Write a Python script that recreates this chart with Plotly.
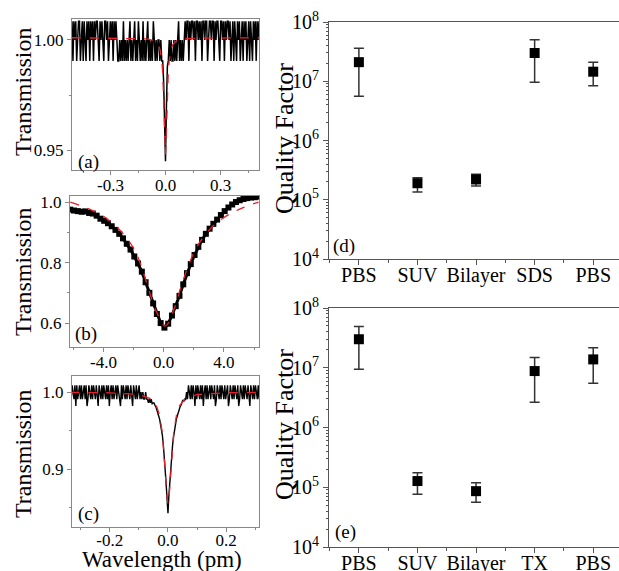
import plotly.graph_objects as go
import numpy as np

# ---- (a) transmission, narrow resonance ----
A_HI, A_MID, A_LO = 1.0085, 1.000, 0.9905
H, M, L = A_HI, A_MID, A_LO
a_trans = [
    H, L, H, M, H, L, M, H, H, L, M, H, L, H, M, L, H, M, H, L,
    H, M, H, L, H, M, H, H, M, L, H, M, H, M, L, H, H, M, H, L, M, H, M, H, L, H, M, H, M, L,
    L, M, L, M, L, H, L, M, L, M, L, M, H, L,
    M, L, M, H, L, M, L, H, M, L, M, L, H, L, M, L, M, H, L, M, L, M, L, H, M, L, M, L, M,
    M, L, M, L, L,
    0.981, 0.962, 0.945, 0.970, 0.988,
    L, M, L, M, L, L, M, L, M, L, M, H, L, M, L, M, L, M,
    H, M, H, H, L, H, M, H, H, M, H, L, H, H, M, H, M, H, L, H, H, M, H, H, L, M, H, H, M, H,
    H, L, H, M, H, H, M, L, H, H, M, H, L, H, M, H, H, M, H, L,
    M, H, L, H, M, L, H, M, H, L, M, H, L, H, M, H, L, M, H, L, H, M, L, H, M, H, L, H, M, H,
]
a_fit_x = [-0.51, -0.2, -0.1, -0.06, -0.04, -0.03, -0.02, -0.015, -0.01, -0.005, 0.0,
           0.005, 0.01, 0.015, 0.02, 0.03, 0.04, 0.06, 0.1, 0.2, 0.51]
a_fit_y = [1.001, 1.0008, 1.0005, 0.9996, 0.9979, 0.9957, 0.9904, 0.9847, 0.9745, 0.9586, 0.948,
           0.9586, 0.9745, 0.9847, 0.9904, 0.9957, 0.9979, 0.9996, 1.0005, 1.0008, 1.001]

# ---- (b) transmission, broad resonance ----
b_wl = [-6.2 + 0.25 * k for k in range(51)]
b_trans = [0.975, 0.972, 0.970, 0.968, 0.969, 0.964, 0.962, 0.955, 0.945, 0.938,
           0.930, 0.920, 0.908, 0.895, 0.880, 0.862, 0.843, 0.820, 0.797, 0.770,
           0.735, 0.700, 0.665, 0.630, 0.600, 0.585, 0.598, 0.625, 0.656, 0.690,
           0.728, 0.765, 0.795, 0.825, 0.852, 0.875, 0.895, 0.912, 0.928, 0.942,
           0.957, 0.970, 0.982, 0.992, 1.000, 1.006, 1.010, 1.013, 1.015, 1.016, 1.018]
b_fit_x = [-6.2, -5.0, -4.0, -3.0, -2.0, -1.5, -1.0, -0.5, 0.1, 0.7, 1.2, 1.7, 2.2, 3.2, 4.2, 5.2, 6.3]
b_fit_y = [1.0, 0.978, 0.953, 0.912, 0.848, 0.790, 0.712, 0.640, 0.590, 0.648, 0.728, 0.797,
           0.852, 0.917, 0.955, 0.980, 1.0]

# ---- (c) transmission ----
C_HI, C_MID, C_LO, C_MIN = 1.009, 1.000, 0.991, 0.982
H, M, L, W = C_HI, C_MID, C_LO, C_MIN
c_trans = [
    H, L, H, M, L, H, W, H, L, M, H, L, H, L, M, H, L, H, W, L,
    H, M, L, H, L, H, M, L, H, L, W, H, M, L, H, L, H, M, L, H,
    L, H, W, M, H, L, H, L, M, H, L, H, M, L, W, H, L, H, M, L,
    H, L, H, M, L, H, L, W, H, M, L, H, L, M, H, L, M, L, M, L,
    L, M, L, L, 0.986, L, 0.986, L, 0.985, 0.986,
    0.986, 0.983, 0.981, 0.977, 0.974, 0.969, 0.965, 0.958,
    0.952, 0.944, 0.932, 0.918, 0.902, 0.882, 0.862,
    0.843,
    0.866, 0.886, 0.905, 0.920, 0.932, 0.942, 0.952, 0.958, 0.965, 0.969, 0.974, 0.977, 0.981, 0.983, 0.986,
    0.990, 0.988, L, 0.990, M,
    L, H, M, L, H, L, H, M, W, H, L, H, M, L, H, L, H, W, M, H,
    L, H, L, M, H, L, H, M, L, H, W, L, H, M, L, H, L, H, M, L,
    H, L, M, H, W, L, H, M, L, H, L, H, M, L, H, W, L, H, M, L,
    H, L, H, M, L, H, L, W, H, M, L, H, L, H, M, L, H, L, M, H,
]
c_fit_x = [-0.336, -0.2, -0.1, -0.06, -0.04, -0.03, -0.02, -0.015, -0.01, -0.005, 0.0,
           0.005, 0.01, 0.015, 0.02, 0.03, 0.04, 0.06, 0.1, 0.2, 0.32]
c_fit_y = [0.9997, 0.9992, 0.9969, 0.9917, 0.9827, 0.9718, 0.9489, 0.9287, 0.9007, 0.870, 0.855,
           0.870, 0.9007, 0.9287, 0.9489, 0.9718, 0.9827, 0.9917, 0.9969, 0.9992, 0.9997]

# ---- (d), (e) quality factors ----
cats_d = ["PBS", "SUV", "Bilayer", "SDS", "PBS"]
q_d = [2.1e7, 1.9e5, 2.2e5, 3.0e7, 1.45e7]
q_d_hi = [3.6e7, 2.35e5, 2.7e5, 5.0e7, 2.1e7]
q_d_lo = [5.6e6, 1.35e5, 1.7e5, 9.6e6, 8.4e6]

cats_e = ["PBS", "SUV", "Bilayer", "TX", "PBS"]
q_e = [3.0e7, 1.27e5, 8.6e4, 8.8e6, 1.38e7]
q_e_hi = [4.9e7, 1.75e5, 1.19e5, 1.48e7, 2.17e7]
q_e_lo = [9.4e6, 7.6e4, 5.6e4, 2.64e6, 5.5e6]

FONT = "Times New Roman, Liberation Serif, DejaVu Serif, serif"
W_PX, H_PX = 619, 571


def px_x(x0, x1):
    return [x0 / W_PX, x1 / W_PX]


def px_y(y_top, y_bot):
    return [1 - y_bot / H_PX, 1 - y_top / H_PX]


fig = go.Figure()

# (a)
fig.add_trace(go.Scatter(x=np.linspace(-0.51, 0.51, len(a_trans)), y=a_trans, mode='lines',
                         line=dict(color='black', width=1.5), xaxis='x', yaxis='y'))
fig.add_trace(go.Scatter(x=a_fit_x, y=a_fit_y, mode='lines', line=dict(color='#e8202a', width=1.3, dash='dash'),
                         xaxis='x', yaxis='y'))
# (b)
fig.add_trace(go.Scatter(x=b_wl, y=b_trans, mode='lines+markers', line=dict(color='black', width=3),
                         marker=dict(symbol='square', size=6, color='black'), xaxis='x2', yaxis='y2'))
fig.add_trace(go.Scatter(x=b_fit_x, y=b_fit_y, mode='lines', line=dict(color='#e8202a', width=1.3, dash='dash', shape='spline'),
                         xaxis='x2', yaxis='y2'))
# (c)
fig.add_trace(go.Scatter(x=np.linspace(-0.336, 0.32, len(c_trans)), y=c_trans, mode='lines',
                         line=dict(color='black', width=1.4), xaxis='x3', yaxis='y3'))
fig.add_trace(go.Scatter(x=c_fit_x, y=c_fit_y, mode='lines', line=dict(color='#e8202a', width=1.3, dash='dash'),
                         xaxis='x3', yaxis='y3'))

# (d), (e)
for cats, q, hi, lo, xa, ya in [(cats_d, q_d, q_d_hi, q_d_lo, 'x4', 'y4'),
                                (cats_e, q_e, q_e_hi, q_e_lo, 'x5', 'y5')]:
    fig.add_trace(go.Scatter(
        x=list(range(1, len(cats) + 1)), y=q, mode='markers',
        marker=dict(symbol='square', size=10, color='black'),
        error_y=dict(type='data', symmetric=False,
                     array=[h - v for h, v in zip(hi, q)],
                     arrayminus=[v - l for v, l in zip(q, lo)],
                     color='#333', thickness=1.5, width=5),
        xaxis=xa, yaxis=ya))

tickfont = dict(family=FONT, size=17, color='black')


def lin_axis(dom, rng, vals, text, minor_dtick, minor_tick0, anchor, standoff=0):
    return dict(domain=dom, range=rng, anchor=anchor, automargin=False,
                showline=True, linecolor='#888', linewidth=1,
                mirror=True, ticks='outside', ticklen=4, tickcolor='#888',
                tickmode='array', tickvals=vals, ticktext=text, tickfont=tickfont,
                ticklabelstandoff=standoff,
                minor=dict(ticks='outside', ticklen=2, tickcolor='#888', dtick=minor_dtick, tick0=minor_tick0),
                showgrid=False, zeroline=False)


layout = dict(
    template='none',
    width=W_PX, height=H_PX, margin=dict(l=0, r=0, t=0, b=0, autoexpand=False),
    paper_bgcolor='white', plot_bgcolor='white', showlegend=False,
    font=dict(family=FONT, color='black'),
    xaxis=lin_axis(px_x(72, 259), [-0.51, 0.51], [-0.3, 0, 0.3], ['-0.3', '0.0', '0.3'], 0.15, 0, 'y', -4),
    yaxis=lin_axis(px_y(19, 170), [0.941, 1.0095], [0.95, 1.0], ['0.95', '1.00'], 0.025, 0, 'x'),
    xaxis2=lin_axis(px_x(70, 259), [-6.22, 6.33], [-4, 0, 4], ['-4.0', '0.0', '4.0'], 2, 0, 'y2', -4),
    yaxis2=lin_axis(px_y(196, 347), [0.521, 1.02], [0.6, 0.8, 1.0], ['0.6', '0.8', '1.0'], 0.1, 0, 'x2'),
    xaxis3=lin_axis(px_x(72, 259), [-0.33, 0.313], [-0.2, 0, 0.2], ['-0.2', '0.0', '0.2'], 0.1, 0, 'y3', -6),
    yaxis3=lin_axis(px_y(376, 527), [0.825, 1.021], [0.9, 1.0], ['0.9', '1.0'], 0.05, 0, 'x3'),
)

log_vals = [1e4, 1e5, 1e6, 1e7, 1e8]
log_text = ['10<sup>4</sup>', '10<sup>5</sup>', '10<sup>6</sup>', '10<sup>7</sup>', '10<sup>8</sup>']
log_minor = [m * 10 ** e for e in range(4, 8) for m in range(2, 10)]

for n, cats, ytop, ybot in [(4, cats_d, 22, 259), (5, cats_e, 308, 547)]:
    layout[f'xaxis{n}'] = dict(
        domain=px_x(329, 619), range=[0.49, 5.44], anchor=f'y{n}', automargin=False,
        showline=True, linecolor='#555', linewidth=1, mirror=True,
        ticks='outside', ticklen=5, tickcolor='#555',
        tickmode='array', tickvals=list(range(1, len(cats) + 1)), ticktext=cats,
        tickfont=dict(family=FONT, size=20, color='black'), ticklabelstandoff=-7,
        minor=dict(ticks='outside', ticklen=3, tickcolor='#555', dtick=0.5, tick0=0.5),
        showgrid=False, zeroline=False)
    layout[f'yaxis{n}'] = dict(
        domain=px_y(ytop, ybot), type='log', range=[4, 8], anchor=f'x{n}', automargin=False,
        showline=True, linecolor='#555', linewidth=1, mirror=False,
        ticks='outside', ticklen=5, tickcolor='#555',
        tickmode='array', tickvals=log_vals, ticktext=log_text,
        tickfont=dict(family=FONT, size=20, color='black'),
        minor=dict(ticks='outside', ticklen=2.5, tickcolor='#555', tickvals=log_minor),
        showgrid=False, zeroline=False)

fig.update_layout(**layout)


def ann(text, xp, yp, size, angle=0):
    fig.add_annotation(text=text, x=xp / W_PX, y=1 - yp / H_PX, xref='paper', yref='paper',
                       showarrow=False, textangle=angle, xanchor='center', yanchor='middle',
                       font=dict(family=FONT, size=size, color='black'))


for yc in [92, 272, 454]:
    ann('Transmission', 23, yc, 24, -90)
ann('Quality Factor', 284, 139, 26, -90)
ann('Quality Factor', 284, 425, 26, -90)
ann('Wavelength (pm)', 162, 559, 23)
ann('(a)', 88, 162, 19)
ann('(b)', 86, 334, 19)
ann('(c)', 88, 514, 19)
ann('(d)', 344, 246, 19)
ann('(e)', 345, 532, 19)

# the page body has an 8px default margin; drop it so the figure sits at the window corner
fig.write_html("out.html", config={'displayModeBar': False},
               post_script="document.body.style.margin='0';")
